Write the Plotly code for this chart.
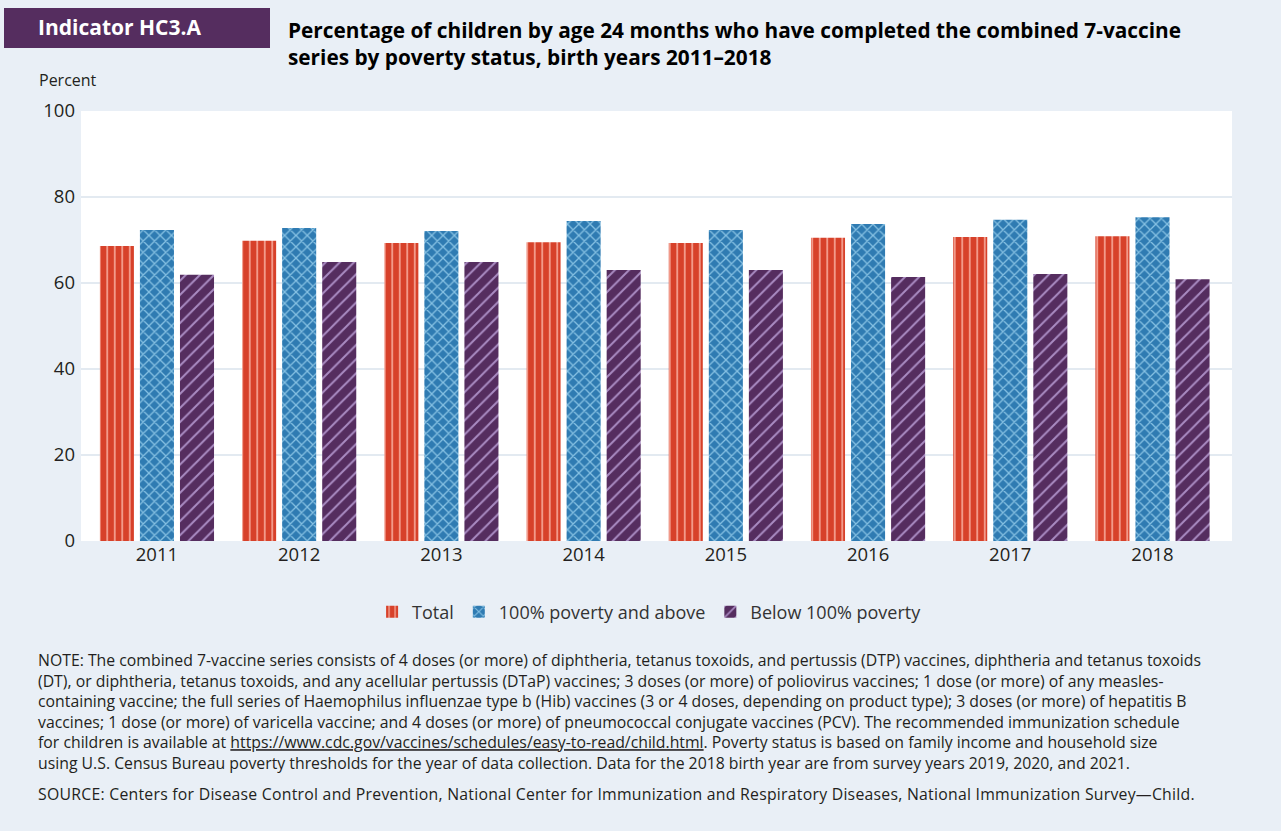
import plotly.graph_objects as go

years = [2011, 2012, 2013, 2014, 2015, 2016, 2017, 2018]
total = [68.6, 69.8, 69.3, 69.5, 69.3, 70.5, 70.7, 70.9]
above_poverty = [72.3, 72.8, 72.1, 74.4, 72.3, 73.7, 74.7, 75.3]
below_poverty = [61.9, 64.9, 64.9, 63.0, 63.0, 61.4, 62.1, 60.9]
y_ticks = [0, 20, 40, 60, 80, 100]

BG = "#e9eff6"
FONT = "Open Sans"
TXT = "#231f20"

fig = go.Figure()

series = [
    ("Total", total, "#d7412a", "#f29a8a", "|", 7.5, 0.25),
    ("100% poverty and above", above_poverty, "#2f7bb2", "#86c1e3", "x", 8, 0.3),
    ("Below 100% poverty", below_poverty, "#552d5f", "#a98bc2", "/", 10, 0.2),
]
for name, vals, bg, fg, shape, sz, sol in series:
    fig.add_trace(go.Bar(
        x=years, y=vals, name=name,
        marker=dict(
            color=bg, line=dict(width=0),
            pattern=dict(shape=shape, bgcolor=bg, fgcolor=fg, fgopacity=1,
                         size=sz, solidity=sol, fillmode="overlay"),
        ),
        hoverinfo="skip",
    ))

fig.update_layout(
    width=1281, height=831,
    margin=dict(l=81, r=49, t=111, b=290),
    paper_bgcolor=BG, plot_bgcolor="white",
    barmode="group", bargap=0.155, bargroupgap=0.15,
    font=dict(family=FONT, color=TXT),
    showlegend=True,
    legend=dict(
        orientation="h", x=0.494, xanchor="center", y=-0.165, yanchor="middle",
        font=dict(size=18, color="#333333"), bgcolor="rgba(0,0,0,0)",
        itemwidth=30, traceorder="normal",
    ),
    xaxis=dict(
        range=[2010.466, 2018.559], tickvals=years,
        ticktext=[str(y) for y in years],
        showgrid=False, zeroline=False, showline=False,
        tickfont=dict(size=18.5, color=TXT), ticks="",
        fixedrange=True,
    ),
    yaxis=dict(
        range=[0, 100], tickvals=y_ticks,
        gridcolor="#e3eaf1", gridwidth=2, zeroline=False, showline=False,
        tickfont=dict(size=18.5, color=TXT), ticks="", ticklabelstandoff=5,
        fixedrange=True,
    ),
)

# header box
fig.add_shape(type="rect", xref="paper", yref="paper",
              x0=-77 / 1151, x1=189 / 1151,
              y0=(541 - 48) / 430, y1=(541 - 8) / 430,
              fillcolor="#552d5f", line=dict(width=0), layer="above")

fig.add_annotation(text="<b>Indicator HC3.A</b>", xref="paper", yref="paper",
                   x=-45 / 1151, y=(541 - 27) / 430, xanchor="left", yanchor="middle",
                   showarrow=False, font=dict(size=21, color="white", family=FONT))

fig.add_annotation(
    text="<b>Percentage of children by age 24 months who have completed the combined 7-vaccine<br>"
         "series by poverty status, birth years 2011–2018</b>",
    xref="paper", yref="paper", x=205 / 1151, y=(541 - 43) / 430,
    xanchor="left", yanchor="middle", align="left", showarrow=False,
    font=dict(size=20.8, color="black", family=FONT))

fig.add_annotation(text="Percent", xref="paper", yref="paper",
                   x=-44 / 1151, y=(541 - 80) / 430, xanchor="left", yanchor="middle",
                   showarrow=False, font=dict(size=16, color=TXT))

note_lines = [
    "NOTE: The combined 7-vaccine series consists of 4 doses (or more) of diphtheria, tetanus toxoids, and pertussis (DTP) vaccines, diphtheria and tetanus toxoids",
    "(DT), or diphtheria, tetanus toxoids, and any acellular pertussis (DTaP) vaccines; 3 doses (or more) of poliovirus vaccines; 1 dose (or more) of any measles-",
    "containing vaccine; the full series of Haemophilus influenzae type b (Hib) vaccines (3 or 4 doses, depending on product type); 3 doses (or more) of hepatitis B",
    "vaccines; 1 dose (or more) of varicella vaccine; and 4 doses (or more) of pneumococcal conjugate vaccines (PCV). The recommended immunization schedule",
    "for children is available at <u>https://www.cdc.gov/vaccines/schedules/easy-to-read/child.html</u>. Poverty status is based on family income and household size",
    "using U.S. Census Bureau poverty thresholds for the year of data collection. Data for the 2018 birth year are from survey years 2019, 2020, and 2021.",
]
fig.add_annotation(text="<br>".join(note_lines), xref="paper", yref="paper",
                   x=-45 / 1151, y=(541 - 711.5) / 430, xanchor="left", yanchor="middle",
                   align="left", showarrow=False, font=dict(size=15.8, color=TXT))

fig.add_annotation(
    text="<span style='letter-spacing:0.25px'>SOURCE: Centers for Disease Control and Prevention, "
         "National Center for Immunization and Respiratory Diseases, National Immunization Survey—Child.</span>",
    xref="paper", yref="paper", x=-45 / 1151, y=(541 - 794) / 430,
    xanchor="left", yanchor="middle", align="left", showarrow=False,
    font=dict(size=15.8, color=TXT))

fig.write_html("out.html", config={"displayModeBar": False},
               post_script="document.body.style.margin='0';"
                           "document.body.style.background='" + BG + "';")
